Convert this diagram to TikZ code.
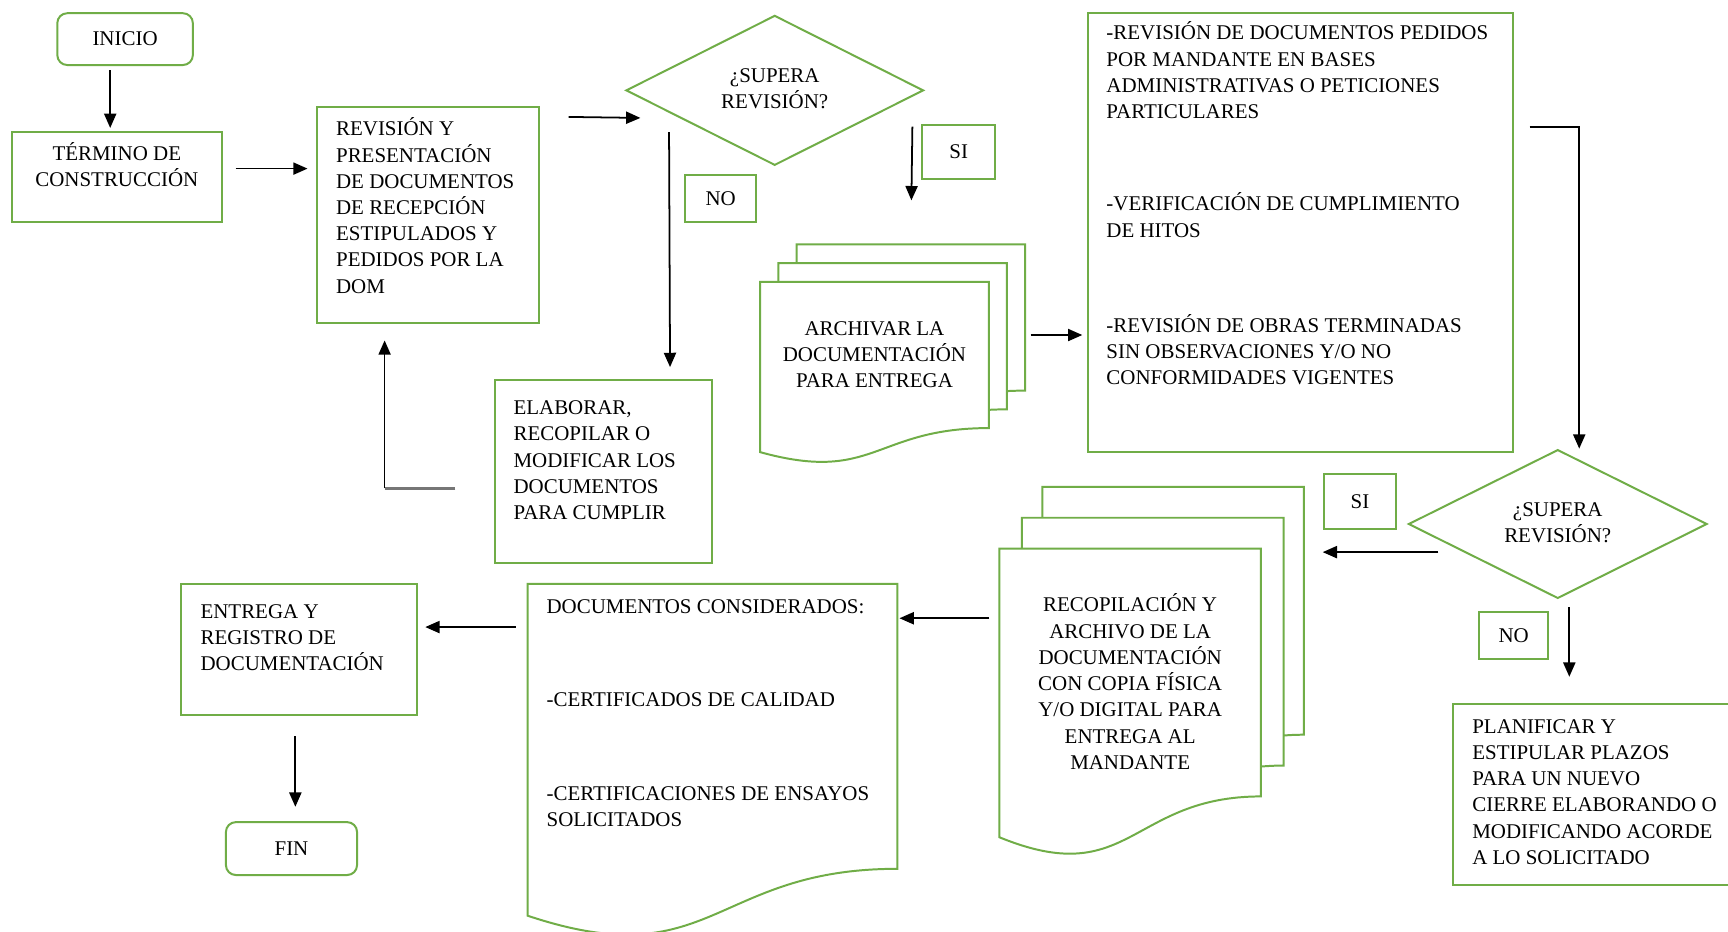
\documentclass[tikz,border=0pt]{standalone}
\usepackage{fontspec}
\setmainfont{Liberation Serif}
\usetikzlibrary{shapes.geometric,arrows.meta,calc,backgrounds}
\definecolor{boxgreen}{RGB}{112,173,71}
\definecolor{linkgray}{RGB}{118,118,118}

% text blocks pinned to the top of a fixed-height box
\newcommand\toptextl[3]{\parbox[c][#1][t]{#2}{\begin{tabular}[t]{@{}l@{}}#3\end{tabular}}}
\newcommand\toptextc[3]{\parbox[c][#1][t]{#2}{\centering\begin{tabular}[t]{@{}c@{}}#3\end{tabular}}}

% flowchart "document" outline around a node, shifted by (#2,#3)
\newcommand\docoutline[3]{%
  \draw[gline, fill=white] let \p1=(#1.north west), \p2=(#1.south east), \n1={\y1-\y2} in
    ({\x1+#2},{\y1+#3}) -- ({\x2+#2},{\y1+#3}) -- ({\x2+#2},{\y1+#3-0.802*\n1})
    .. controls ({(\x1+\x2)/2+#2},{\y1+#3-0.802*\n1}) and ({(\x1+\x2)/2+#2},{\y1+#3-1.1075*\n1}) ..
    ({\x1+#2},{\y1+#3-0.934*\n1}) -- cycle;}

\begin{document}
\begin{tikzpicture}[x=1pt, y=-1pt,
  every node/.style={font=\fontsize{19}{23.8}\selectfont},
  gline/.style={draw=boxgreen, line width=1.8pt},
  gbox/.style={gline, rectangle, inner sep=0pt, fill=white},
  termbox/.style={gbox, rounded corners=9pt},
  decision/.style={gline, diamond, aspect=2, inner sep=0pt, fill=white},
  docnode/.style={rectangle, inner sep=0pt},
  arr/.style={draw=black, line width=1.6pt, -{Triangle[length=13pt,width=11pt]}},
  backline/.style={draw=linkgray, line width=3pt},
]
\begin{pgfonlayer}{background}
  \fill[white] (0,0) rectangle (1568,845);
\end{pgfonlayer}
\useasboundingbox (0,0) rectangle (1568,845);

% ---- boxes ----
\node[termbox, minimum width=123, minimum height=47] (inicio) at (113.5,35.5) {INICIO};

\node[gbox, minimum width=190, minimum height=81] (termino) at (106,160.5)
  {\toptextc{63.8pt}{180pt}{TÉRMINO DE\\CONSTRUCCIÓN}};

\node[gbox, minimum width=201, minimum height=196] (rev) at (388.5,195)
  {\toptextl{176.8pt}{167pt}{REVISIÓN Y\\PRESENTACIÓN\\DE DOCUMENTOS\\DE RECEPCIÓN\\ESTIPULADOS Y\\PEDIDOS POR LA\\DOM}};

\node[decision, minimum width=270, minimum height=136] (d1) at (703,82)
  {\begin{tabular}{@{}c@{}}¿SUPERA\\REVISIÓN?\end{tabular}};

\node[gbox, minimum width=64, minimum height=42] (no1) at (654,180) {NO};
\node[gbox, minimum width=66, minimum height=49] (si1) at (870,137.5) {SI};

\node[gbox, minimum width=197, minimum height=166] (elab) at (547.5,428)
  {\toptextl{136.8pt}{163pt}{ELABORAR,\\RECOPILAR O\\MODIFICAR LOS\\DOCUMENTOS\\PARA CUMPLIR}};

% archive (stacked documents)
\node[docnode, minimum width=207, minimum height=165] (arch) at (793.5,338.5)
  {\toptextc{101.8pt}{190pt}{ARCHIVAR LA\\DOCUMENTACIÓN\\PARA ENTREGA}};
\begin{pgfonlayer}{background}
  \docoutline{arch}{33pt}{34pt}
  \docoutline{arch}{16.5pt}{17pt}
  \docoutline{arch}{0pt}{0pt}
\end{pgfonlayer}

\node[gbox, minimum width=386, minimum height=398] (big) at (1180,211)
  {\toptextl{382.8pt}{352pt}{-REVISIÓN DE DOCUMENTOS PEDIDOS\\POR MANDANTE EN BASES\\ADMINISTRATIVAS O PETICIONES\\PARTICULARES\\[59.8pt]
   -VERIFICACIÓN DE CUMPLIMIENTO\\DE HITOS\\[62.4pt]
   -REVISIÓN DE OBRAS TERMINADAS\\SIN OBSERVACIONES Y/O NO\\CONFORMIDADES VIGENTES}};

\node[decision, minimum width=271, minimum height=135] (d2) at (1413.5,475.5)
  {\begin{tabular}{@{}c@{}}¿SUPERA\\REVISIÓN?\end{tabular}};

\node[gbox, minimum width=66, minimum height=50] (si2) at (1234,455) {SI};
\node[gbox, minimum width=63, minimum height=43] (no2) at (1373.5,576.5) {NO};

\node[gbox, minimum width=270, minimum height=164] (plan) at (1453,721)
  {\toptextl{144.8pt}{234pt}{PLANIFICAR Y\\ESTIPULAR PLAZOS\\PARA UN NUEVO\\CIERRE ELABORANDO O\\MODIFICANDO ACORDE\\A LO SOLICITADO}};

% compilation (stacked documents)
\node[docnode, minimum width=237, minimum height=280] (recop) at (1025.5,638)
  {\toptextc{198.8pt}{220pt}{RECOPILACIÓN Y\\ARCHIVO DE LA\\DOCUMENTACIÓN\\CON COPIA FÍSICA\\Y/O DIGITAL PARA\\ENTREGA AL\\MANDANTE}};
\begin{pgfonlayer}{background}
  \docoutline{recop}{39pt}{56pt}
  \docoutline{recop}{20.5pt}{28pt}
  \docoutline{recop}{0pt}{0pt}
\end{pgfonlayer}

% documents considered (single document)
\node[docnode, minimum width=335, minimum height=322] (docs) at (646.5,691)
  {\toptextl{302.8pt}{301pt}{DOCUMENTOS CONSIDERADOS:\\[61.2pt]-CERTIFICADOS DE CALIDAD\\[61.2pt]-CERTIFICACIONES DE ENSAYOS\\SOLICITADOS}};
\begin{pgfonlayer}{background}
  \docoutline{docs}{0pt}{0pt}
\end{pgfonlayer}

\node[gbox, minimum width=214, minimum height=119] (entrega) at (271,589.5)
  {\toptextl{89.8pt}{178pt}{ENTREGA Y\\REGISTRO DE\\DOCUMENTACIÓN}};

\node[termbox, minimum width=119, minimum height=48] (fin) at (264.5,770) {FIN};

% ---- connectors ----
\draw[arr] ($(inicio.south)+(-13.5,4)$) -- ($(termino.north)+(-6,-3)$);
\draw[arr] ($(termino.east)+(12,-7.5)$) -- ($(rev.west)+(-8,-42)$);
\draw[arr] ($(rev.north east)+(26,10)$) -- ($(d1.west)+(14,25)$);
\draw[arr] ($(d1.west)+(40,38)$) -- ($(elab.north)+(60.5,-11)$);
\draw[arr] ($(d1.east)+(-11,33)$) -- ($(arch.north)+(33.5,-74)$);
\draw[arr] ($(arch.east)+(38,-34.5)$) -- ($(big.west)+(-4,93)$);
\draw[arr] ($(big.east)+(14,-96)$) -| ($(d2.north)+(19.5,0)$);
\draw[arr] ($(d2.west)+(28,25.5)$) -- ($(recop.east)+(56,-137)$);
\draw[arr] ($(d2.south)+(10.5,7)$) -- ($(plan.north)+(-29,-24)$);
\draw[arr] ($(recop.west)+(-9,-77)$) -- ($(docs.east)+(2,-130)$);
\draw[arr] ($(docs.west)+(-11,-122)$) -- ($(entrega.east)+(7,-20.5)$);
\draw[arr] ($(entrega.south)+(-3,18)$) -- ($(fin.north)+(3.5,-13)$);

% return path back to the review box
\coordinate (retA) at ($(elab.west)+(-35,15)$);
\coordinate (retB) at ($(rev.south)+(-39.5,15)$);
\draw[backline] (retA) -- (retA -| retB);
\draw[arr] (retA -| retB) -- (retB);
\end{tikzpicture}
\end{document}
